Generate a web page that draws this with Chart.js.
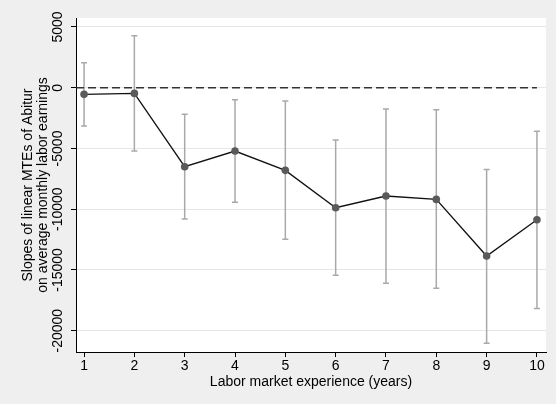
<!DOCTYPE html>
<html>
<head>
<meta charset="utf-8">
<script src="https://cdn.jsdelivr.net/npm/chart.js@4.4.1/dist/chart.umd.min.js"></script>
<style>
    html, body { margin: 0; padding: 0; background: #efefef; }
    canvas { display: block; }
</style>
</head>
<body>
<canvas id="chart" width="556" height="404"></canvas>
<script>
// Data
const years = [1, 2, 3, 4, 5, 6, 7, 8, 9, 10];
const slopes = [-545, -465, -6500, -5210, -6800, -9875, -8910, -9190, -13850, -10860];
const ciUpper = [2060, 4280, -2190, -990, -1100, -4300, -1750, -1810, -6720, -3590];
const ciLower = [-3150, -5210, -10800, -9430, -12480, -15440, -16100, -16510, -21040, -18160];
const yTicks = [5000, 0, -5000, -10000, -15000, -20000];

const xMin = 0.84, xMax = 10.18;
const yMin = -21750, yMax = 5740;

const fontFamily = '"Liberation Sans", Arial, sans-serif';

// Canvas background + white plot region
const backgroundPlugin = {
    id: 'background',
    beforeDraw(chart) {
        const { ctx, chartArea } = chart;
        ctx.save();
        ctx.fillStyle = '#efefef';
        ctx.fillRect(0, 0, chart.width, chart.height);
        ctx.fillStyle = '#ffffff';
        ctx.fillRect(chartArea.left, chartArea.top, chartArea.right - chartArea.left, chartArea.bottom - chartArea.top);
        ctx.restore();
    }
};

// Confidence interval whiskers, drawn under the line and markers
const errorBarPlugin = {
    id: 'errorBars',
    beforeDatasetsDraw(chart) {
        const { ctx, scales: { x, y } } = chart;
        ctx.save();
        ctx.strokeStyle = '#a9a9a9';
        ctx.lineWidth = 1.5;
        years.forEach((yr, i) => {
            const px = x.getPixelForValue(yr);
            const top = y.getPixelForValue(ciUpper[i]);
            const bot = y.getPixelForValue(ciLower[i]);
            ctx.beginPath();
            ctx.moveTo(px, top);
            ctx.lineTo(px, bot);
            ctx.moveTo(px - 3, top);
            ctx.lineTo(px + 3, top);
            ctx.moveTo(px - 3, bot);
            ctx.lineTo(px + 3, bot);
            ctx.stroke();
        });
        ctx.restore();
    }
};

// Vertical y tick labels (Stata style)
const yLabelPlugin = {
    id: 'yLabels',
    afterDraw(chart) {
        const { ctx, scales: { y } } = chart;
        ctx.save();
        ctx.fillStyle = '#000';
        ctx.font = '14px ' + fontFamily;
        ctx.textAlign = 'center';
        ctx.textBaseline = 'middle';
        yTicks.forEach(v => {
            ctx.save();
            ctx.translate(58, y.getPixelForValue(v));
            ctx.rotate(-Math.PI / 2);
            ctx.fillText(String(v), 0, 0);
            ctx.restore();
        });
        ctx.restore();
    }
};

new Chart(document.getElementById('chart'), {
    type: 'line',
    data: {
        datasets: [
            {
                label: 'zero',
                data: [{ x: xMin, y: 0 }, { x: 10, y: 0 }],
                borderColor: '#333333',
                borderWidth: 1.5,
                borderDash: [8, 4],
                pointRadius: 0,
                order: 2
            },
            {
                label: 'slope',
                data: years.map((yr, i) => ({ x: yr, y: slopes[i] })),
                borderColor: '#111111',
                borderWidth: 1.3,
                pointRadius: 3.8,
                pointBackgroundColor: '#5a5a5a',
                pointBorderColor: '#5a5a5a',
                pointBorderWidth: 0,
                tension: 0,
                order: 1
            }
        ]
    },
    options: {
        responsive: false,
        animation: false,
        events: [],
        layout: { padding: { top: 18, right: 10, left: 0, bottom: 0 } },
        plugins: {
            legend: { display: false },
            tooltip: { enabled: false }
        },
        scales: {
            x: {
                type: 'linear',
                min: xMin,
                max: xMax,
                afterBuildTicks: scale => { scale.ticks = years.map(v => ({ value: v })); },
                afterFit: scale => { scale.height = 52; },
                ticks: {
                    color: '#000',
                    font: { family: fontFamily, size: 14 },
                    padding: 1,
                    maxRotation: 0,
                    callback: v => String(v)
                },
                grid: {
                    drawOnChartArea: false,
                    tickColor: '#000',
                    tickLength: 5,
                    tickWidth: 1
                },
                border: { color: '#000', width: 1 },
                title: {
                    display: true,
                    text: 'Labor market experience (years)',
                    color: '#000',
                    font: { family: fontFamily, size: 14, lineHeight: 1.15 },
                    padding: { top: 0, bottom: 14 }
                }
            },
            y: {
                type: 'linear',
                min: yMin,
                max: yMax,
                afterBuildTicks: scale => { scale.ticks = yTicks.map(v => ({ value: v })); },
                afterFit: scale => { scale.width = 76; },
                ticks: { display: false },
                grid: {
                    color: '#e6e6e6',
                    lineWidth: 1,
                    tickColor: '#000',
                    tickLength: 5,
                    tickWidth: 1
                },
                border: { color: '#000', width: 1 },
                title: {
                    display: true,
                    text: ['Slopes of linear MTEs of Abitur', 'on average monthly labor earnings'],
                    color: '#000',
                    font: { family: fontFamily, size: 14, lineHeight: 15 / 14 },
                    padding: { top: 20.5, bottom: 0 }
                }
            }
        }
    },
    plugins: [backgroundPlugin, errorBarPlugin, yLabelPlugin]
});
</script>
</body>
</html>
